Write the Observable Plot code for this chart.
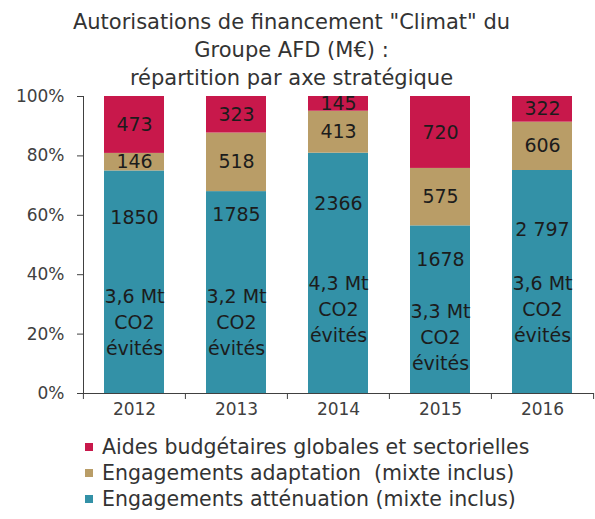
<!DOCTYPE html>
<html><head><meta charset="utf-8">
<script src="https://cdn.jsdelivr.net/npm/d3@7"></script>
<script src="https://cdn.jsdelivr.net/npm/@observablehq/plot@0.6"></script>
<style>
html,body{margin:0;padding:0;background:#fff;}
body{position:relative;width:595px;height:519px;overflow:hidden;font-family:"DejaVu Sans",sans-serif;color:#404040;}
#title{position:absolute;left:0;top:8px;width:583px;text-align:center;font-size:21px;line-height:28px;color:#333;}
#chart{position:absolute;left:0;top:86px;}
#legend{position:absolute;left:85px;top:434px;font-size:20.5px;color:#333;}
.row{display:flex;align-items:center;height:26px;white-space:pre;}
.sw{width:8px;height:8px;margin-right:9px;flex:none;}
</style></head><body>
<div id="title">Autorisations de financement "Climat" du<br>Groupe AFD (M€) :<br>répartition par axe stratégique</div>
<div id="chart"></div>
<div id="legend"></div>
<script>
const years = ["2012", "2013", "2014", "2015", "2016"];
const seriesNames = ["Engagements atténuation (mixte inclus)", "Engagements adaptation  (mixte inclus)", "Aides budgétaires globales et sectorielles"];
const attenuation = [1850, 1785, 2366, 1678, 2797];
const adaptation = [146, 518, 413, 575, 606];
const aides = [473, 323, 145, 720, 322];
const attenuationLabels = ["1850", "1785", "2366", "1678", "2 797"];
const co2Labels = ["3,6 Mt\nCO2\névités", "3,2 Mt\nCO2\névités", "4,3 Mt\nCO2\névités", "3,3 Mt\nCO2\névités", "3,6 Mt\nCO2\névités"];
const attenuationLabelAt = [0.59, 0.60, 0.64, 0.45, 0.55];
const co2LabelAt = [0.246, 0.246, 0.29, 0.195, 0.29];
const yTicks = [0, 0.2, 0.4, 0.6, 0.8, 1];
const colors = ["#3391A7", "#B99D67", "#C8184B"];

const seriesValues = [attenuation, adaptation, aides];
const rows = [];
years.forEach((y, i) => seriesNames.forEach((s, k) => rows.push({year: y, series: s, value: seriesValues[k][i]})));

const W = 595, ML = 83, MR = 1;
const step = (W - ML - MR) / years.length;

const chart = Plot.plot({
  width: W, height: 337,
  marginLeft: ML, marginRight: MR, marginTop: 10, marginBottom: 30,
  style: {color: "#404040", fontFamily: "DejaVu Sans, sans-serif", background: "transparent"},
  x: {domain: years, paddingInner: 0.41, paddingOuter: 0.205, label: null},
  y: {domain: [0, 1], label: null},
  color: {domain: seriesNames, range: colors},
  marks: [
    Plot.barY(rows, {x: "year", y: "value", fill: "series", offset: "normalize"}),
    Plot.textY(rows, Plot.stackY({x: "year", y: "value", z: "series", offset: "normalize",
      text: d => d.series === seriesNames[0] ? "" : String(d.value),
      fill: "#1c1c1c", fontSize: 19})),
    Plot.text(years, {x: d => d, y: (d, i) => attenuationLabelAt[i], text: (d, i) => attenuationLabels[i], fill: "#1c1c1c", fontSize: 19}),
    Plot.text(years, {x: d => d, y: (d, i) => co2LabelAt[i], text: (d, i) => co2Labels[i], fill: "#1c1c1c", fontSize: 19, lineHeight: 1.37}),
    Plot.ruleY([0], {stroke: "#404040"}),
    Plot.frame({anchor: "left", stroke: "#404040"}),
    Plot.axisY({ticks: yTicks, tickFormat: d3.format(".0%"), tickSize: 6, tickPadding: 13, fontSize: 17}),
    Plot.axisX({tickSize: 0, tickPadding: 9, fontSize: 17}),
    Plot.axisX(years, {tickSize: 6, tickFormat: () => "", dx: -step / 2}),
    Plot.axisX([years[years.length - 1]], {tickSize: 6, tickFormat: () => "", dx: step / 2})
  ]
});
document.getElementById("chart").appendChild(chart);

const legend = document.getElementById("legend");
[2, 1, 0].forEach(k => {
  const r = document.createElement("div");
  r.className = "row";
  const sw = document.createElement("span");
  sw.className = "sw";
  sw.style.background = colors[k];
  const t = document.createElement("span");
  t.textContent = seriesNames[k];
  r.appendChild(sw); r.appendChild(t);
  legend.appendChild(r);
});
</script>
</body></html>
